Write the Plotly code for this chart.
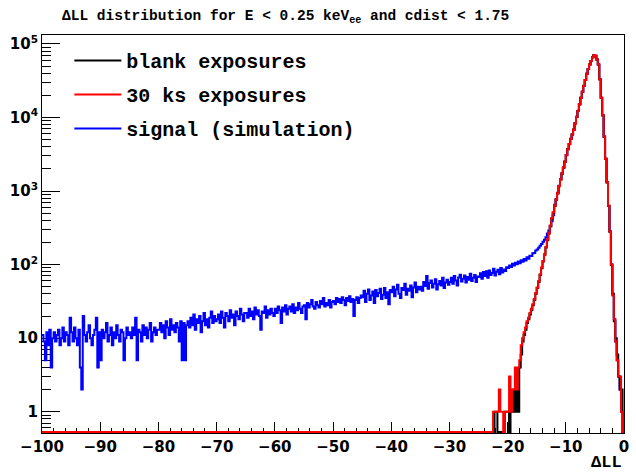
import numpy as np
import plotly.graph_objects as go

# ---------------- data (bin width 0.25, range -100 .. 0) ----------------
x_min, x_max, bin_w = -100.0, 0.0, 0.25

# signal (simulation): 400 bins from -100 to 0
blue_vals = [
    # -100 .. -95
    11, 9, 5, 12, 8, 13, 4, 10, 12, 9, 11, 13, 8, 10, 14, 9, 12, 11, 8, 19,
    # -95 .. -90
    12, 9, 14, 10, 8, 13, 4, 2, 20, 11, 9, 12, 15, 10, 8, 11, 13, 19, 4, 12,
    # -90 .. -85
    5, 13, 10, 12, 16, 9, 11, 14, 8, 12, 10, 15, 11, 9, 13, 12, 5, 10, 14, 11,
    # -85 .. -80
    12, 10, 14, 11, 19, 5, 13, 12, 9, 15, 11, 14, 10, 13, 16, 9, 12, 14, 11, 13,
    # -80 .. -75
    13, 16, 12, 15, 10, 17, 14, 11, 18, 13, 15, 12, 16, 14, 9, 17, 5, 16, 5, 15,
    # -75 .. -70
    17, 14, 19, 15, 21, 13, 18, 16, 20, 12, 17, 22, 15, 18, 14, 19, 23, 16, 20, 17,
    # -70 .. -65
    18, 21, 16, 23, 19, 14, 22, 20, 17, 24, 19, 21, 15, 23, 20, 18, 25, 21, 17, 22,
    # -65 .. -60
    22, 19, 25, 20, 23, 18, 26, 21, 24, 20, 13, 23, 22, 27, 19, 24, 21, 25, 22, 20,
    # -60 .. -55
    25, 22, 27, 24, 16, 26, 23, 28, 21, 25, 27, 23, 29, 22, 26, 24, 30, 25, 22, 27,
    # -55 .. -50
    28, 18, 30, 26, 29, 33, 27, 25, 31, 28, 26, 32, 29, 35, 27, 30, 28, 33, 26, 31,
    # -50 .. -45
    32, 29, 35, 31, 34, 30, 36, 33, 28, 35, 32, 37, 31, 34, 20, 33, 36, 30, 35, 38,
    # -45 .. -40
    36, 44, 31, 40, 46, 33, 38, 43, 30, 45, 37, 41, 47, 34, 39, 48, 35, 42, 29, 45,
    # -40 .. -35
    42, 50, 37, 46, 53, 40, 35, 48, 45, 55, 39, 47, 44, 52, 36, 49, 57, 42, 50, 46,
    # -35 .. -30
    50, 44, 58, 51, 70, 47, 56, 61, 49, 55, 63, 46, 54, 60, 52, 66, 48, 57, 62, 53,
    # -30 .. -25
    58, 66, 55, 70, 61, 52, 67, 73, 59, 64, 71, 57, 68, 62, 75, 60, 66, 72, 58, 69,
    # -25 .. -20
    68, 76, 64, 79, 70, 81, 66, 83, 72, 77, 88, 71, 80, 85, 74, 90, 78, 86, 82, 92,
    # -20 .. -15
    90, 97, 93, 103, 97, 106, 101, 110, 104, 115, 109, 119, 114, 126, 120, 132, 131, 143, 144, 156,
    # -15 .. -12
    160, 170, 180, 190, 205, 218, 236, 265, 290, 330, 390, 470,
    # -12 .. -8
    650, 780, 945, 1185, 1450, 1745, 2095, 2515, 3095, 3720, 4370, 5135, 5895, 6845, 8325, 10235,
    # -8 .. -3
    12310, 15150, 18630, 22400, 26930, 32370, 39370, 45720, 52490, 58890,
    66080, 70810, 69190, 61670, 52490, 33120, 18630, 10730, 5510, 2755,
    # -3 .. 0
    1320, 632, 283, 101, 39, 18, 9, 5, 3, 2, 1, 0,
]

# 30 ks exposures: bins from -23 to 0 (all bins below -23 are empty)
red_start = -23.0
red_vals = [
    0, 0, 1, 1, 1, 1, 2, 1, 1, 0, 1, 1, 1, 3, 1, 2, 2, 4, 2, 4,
    5, 8, 10, 12, 14, 17, 19, 22, 25, 29, 34, 41, 49, 60, 74, 91, 112, 138, 174, 219,
    269, 339, 427, 513, 631, 767, 933, 1175, 1445, 1738, 2090, 2512, 3090, 3715, 4365, 5130, 5890, 6840, 8320, 10230,
    12300, 15140, 18620, 22390, 26920, 32360, 39360, 45710, 52480, 58880,
    66070, 70800, 69180, 61660, 52480, 33110, 18620, 10720, 5500, 2750,
    1318, 631, 282, 100, 38, 18, 9, 5, 3, 3, 1, 0,
]

# blank exposures: bins from -23 to 0 (all bins below -23 are empty)
black_start = -23.0
black_vals = [
    0, 0, 0, 1, 1, 0, 0, 0, 0, 0, 1, 1, 1, 0, 1, 1, 2, 1, 2, 1,
    4, 6, 9, 11, 13, 16, 18, 21, 24, 28, 33, 40, 48, 58, 72, 89, 110, 136, 171, 215,
    265, 335, 423, 508, 625, 760, 925, 1165, 1435, 1725, 2075, 2495, 3070, 3690, 4340, 5100, 5860, 6800, 8280, 10180,
    12250, 15080, 18560, 22320, 26850, 32280, 39260, 45600, 52380, 58760,
    65950, 70650, 69050, 61550, 52400, 33050, 18600, 10700, 5480, 2740,
    1310, 628, 280, 99, 40, 17, 10, 6, 3, 2, 2, 0,
]

series_names = ["blank exposures", "30 ks exposures", "signal (simulation)"]
series_colors = ["#000000", "#ff0000", "#0000ff"]

x_ticks = [-100, -90, -80, -70, -60, -50, -40, -30, -20, -10, 0]
x_ticklabels = ["\u2212100", "\u221290", "\u221280", "\u221270", "\u221260", "\u221250",
                "\u221240", "\u221230", "\u221220", "\u221210", "0"]
y_ticks = [1, 10, 100, 1000, 10000, 100000]
y_ticklabels = ["1", "10", "10<sup>2</sup>", "10<sup>3</sup>", "10<sup>4</sup>", "10<sup>5</sup>"]

# ---------------- construction ----------------
n_bins = int(round((x_max - x_min) / bin_w))
edges = x_min + bin_w * np.arange(n_bins + 1)

y_lo_log, y_hi_log = -0.29, 5.122
floor_val = 10 ** (y_lo_log + 0.012)   # empty bins drawn on the frame bottom (ROOT style)


def full_hist(start, vals):
    n_pad = int(round((start - x_min) / bin_w))
    return np.concatenate([np.zeros(n_pad), np.asarray(vals, dtype=float)])


def step_xy(counts):
    c = np.asarray(counts, dtype=float)
    c = np.where(c > 0, c, floor_val)
    xs = edges
    ys = np.append(c, c[-1])
    return xs, ys


blue = np.asarray(blue_vals, dtype=float)
red = full_hist(red_start, red_vals)
black = full_hist(black_start, black_vals)

fig = go.Figure()
draw_order = [(2, blue), (0, black), (1, red)]
for idx, counts in draw_order:
    xs, ys = step_xy(counts)
    fig.add_trace(go.Scatter(
        x=xs, y=ys, mode="lines", line_shape="hv",
        line=dict(color=series_colors[idx], width=2),
        name=series_names[idx], legendrank=idx + 1,
        legendgroup=f"g{idx}", hoverinfo="skip",
    ))

tick_font = dict(family="DejaVu Sans", size=15, color="black", weight="bold")
mono = "Liberation Mono, Courier New, monospace"

minor_y = [m * 10.0 ** d for d in range(-1, 5) for m in range(2, 10) if m * 10.0 ** d > 0.51]

fig.update_layout(
    width=636, height=474, autosize=False,
    margin=dict(l=42, r=7, t=35, b=41),
    paper_bgcolor="white", plot_bgcolor="white",
    showlegend=True,
    legend=dict(
        x=0.047, y=0.985, xanchor="left", yanchor="top",
        xref="paper", yref="paper",
        bgcolor="rgba(0,0,0,0)", borderwidth=0,
        font=dict(family=mono, size=20, color="black", weight="bold"),
        tracegroupgap=5, itemwidth=47,
        traceorder="grouped",
    ),
    title=dict(
        text="ΔLL distribution for E < 0.25 keV<sub>ee</sub> and cdist < 1.75",
        x=62 / 636, xanchor="left", xref="container",
        y=1 - 15 / 474, yanchor="middle", yref="container",
        font=dict(family=mono, size=14.5, color="black", weight="bold"),
    ),
    xaxis=dict(
        range=[x_min, x_max], showgrid=False, zeroline=False,
        showline=True, linecolor="black", linewidth=1, mirror=True,
        ticks="inside", ticklen=11, tickwidth=1, tickcolor="black",
        tickvals=x_ticks, ticktext=x_ticklabels, tickfont=tick_font,
        minor=dict(ticks="inside", ticklen=5, dtick=2, tick0=0, tickcolor="black", showgrid=False),
        layer="below traces",
    ),
    yaxis=dict(
        type="log", range=[y_lo_log, y_hi_log], showgrid=False, zeroline=False,
        showline=True, linecolor="black", linewidth=1, mirror=True,
        ticks="inside", ticklen=18, tickwidth=1, tickcolor="black",
        tickvals=y_ticks, ticktext=y_ticklabels, tickfont=tick_font,
        minor=dict(ticks="inside", ticklen=9, tickvals=minor_y, tickcolor="black", showgrid=False),
        layer="below traces",
    ),
    annotations=[dict(
        text="ΔLL", xref="paper", yref="paper", x=1.0, y=-0.075,
        xanchor="right", yanchor="middle", showarrow=False,
        font=dict(family=mono, size=17, color="black", weight="bold"),
    )],
)

fig.write_html("out.html")
